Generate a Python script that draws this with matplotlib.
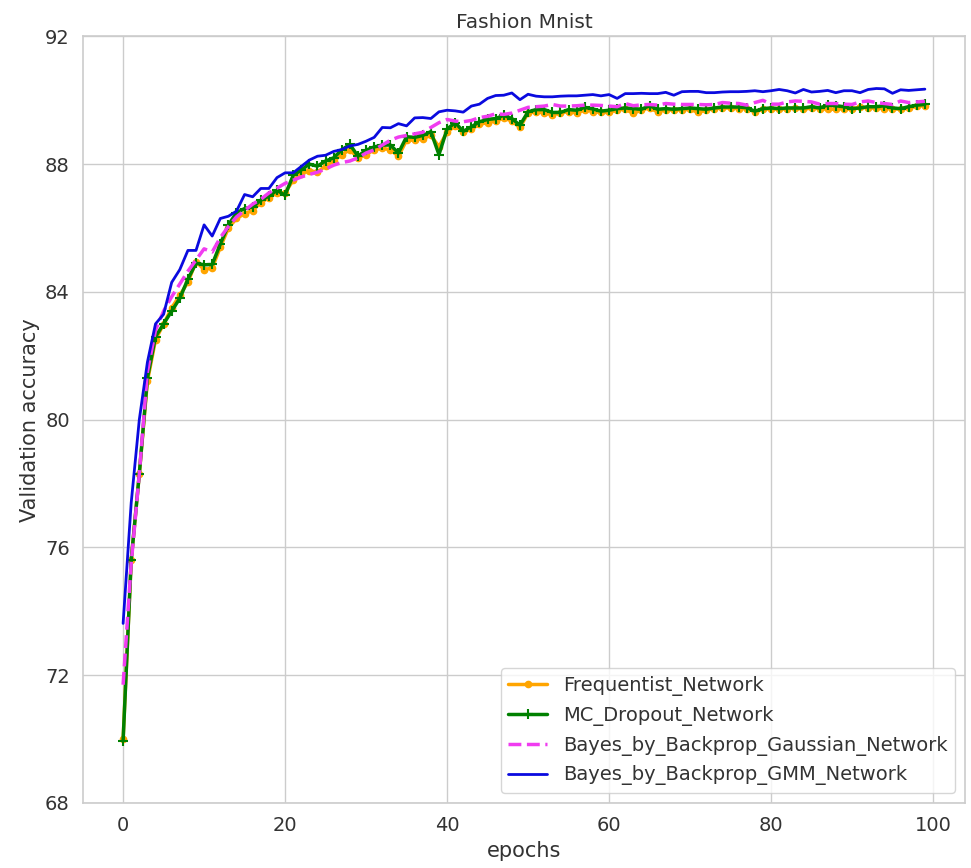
import numpy as np
import matplotlib
matplotlib.use("Agg")
import matplotlib.pyplot as plt
import seaborn as sns

epochs = list(range(100))

frequentist = [
    70.0, 75.6, 78.3, 81.2, 82.5, 83.0, 83.5, 83.9, 84.3, 84.95,
    84.7, 84.75, 85.4, 86.0, 86.3, 86.45, 86.55, 86.8, 86.95, 87.1,
    87.1, 87.5, 87.7, 87.8, 87.75, 87.95, 88.1, 88.3, 88.45, 88.2,
    88.3, 88.45, 88.5, 88.45, 88.25, 88.75, 88.75, 88.8, 88.9, 88.55,
    89.0, 89.2, 89.0, 89.1, 89.25, 89.3, 89.35, 89.45, 89.35, 89.15,
    89.6, 89.65, 89.6, 89.55, 89.6, 89.65, 89.6, 89.7, 89.65, 89.62,
    89.62, 89.7, 89.72, 89.59, 89.7, 89.76, 89.64, 89.7, 89.7, 89.7,
    89.72, 89.62, 89.7, 89.74, 89.76, 89.76, 89.74, 89.74, 89.64, 89.72,
    89.74, 89.72, 89.74, 89.76, 89.72, 89.76, 89.74, 89.72, 89.72, 89.74,
    89.72, 89.80, 89.76, 89.76, 89.74, 89.74, 89.72, 89.76, 89.82, 89.83,
]

mc_dropout = [
    69.95, 75.6, 78.3, 81.3, 82.6, 83.0, 83.4, 83.8, 84.4, 84.9,
    84.85, 84.86, 85.5, 86.1, 86.48, 86.61, 86.66, 86.87, 87.0, 87.18,
    87.03, 87.65, 87.82, 88.0, 87.94, 88.1, 88.2, 88.45, 88.62, 88.25,
    88.44, 88.54, 88.6, 88.6, 88.35, 88.86, 88.84, 88.9, 89.02, 88.3,
    89.1, 89.3, 89.03, 89.17, 89.33, 89.4, 89.43, 89.53, 89.43, 89.22,
    89.64, 89.71, 89.71, 89.62, 89.62, 89.71, 89.69, 89.78, 89.73, 89.66,
    89.69, 89.74, 89.76, 89.74, 89.72, 89.83, 89.72, 89.74, 89.72, 89.74,
    89.76, 89.74, 89.72, 89.76, 89.79, 89.79, 89.79, 89.77, 89.66, 89.74,
    89.76, 89.74, 89.76, 89.76, 89.76, 89.80, 89.76, 89.85, 89.83, 89.80,
    89.74, 89.76, 89.80, 89.80, 89.83, 89.76, 89.74, 89.80, 89.85, 89.87,
]

bbb_gaussian = [
    71.7, 75.5, 78.3, 81.5, 82.8, 83.4, 83.85, 84.25, 84.65, 85.0,
    85.35, 85.25, 85.7, 86.05, 86.35, 86.55, 86.75, 86.9, 87.1, 87.25,
    87.4, 87.5, 87.6, 87.68, 87.75, 87.85, 87.97, 88.05, 88.1, 88.2,
    88.35, 88.45, 88.6, 88.75, 88.85, 88.9, 88.95, 89.0, 89.15, 89.3,
    89.4, 89.35, 89.33, 89.37, 89.46, 89.5, 89.58, 89.56, 89.6, 89.69,
    89.78, 89.8, 89.82, 89.87, 89.82, 89.82, 89.83, 89.85, 89.85, 89.84,
    89.82, 89.80, 89.90, 89.83, 89.86, 89.87, 89.85, 89.90, 89.88, 89.87,
    89.87, 89.87, 89.86, 89.87, 89.93, 89.91, 89.90, 89.85, 89.93, 90.0,
    89.88, 89.88, 89.95, 89.98, 89.97, 89.95, 89.88, 89.90, 89.90, 89.88,
    89.87, 89.95, 89.98, 89.93, 89.90, 89.87, 89.98, 89.93, 89.95, 89.97,
]

bbb_gmm = [
    73.62, 77.4, 80.0, 81.8, 83.0, 83.3, 84.3, 84.7, 85.3, 85.3,
    86.1, 85.75, 86.3, 86.37, 86.53, 87.05, 86.98, 87.24, 87.24, 87.58,
    87.73, 87.73, 87.93, 88.13, 88.25, 88.28, 88.4, 88.46, 88.57, 88.62,
    88.72, 88.84, 89.15, 89.14, 89.27, 89.2, 89.45, 89.46, 89.43, 89.64,
    89.69, 89.67, 89.63, 89.82, 89.88, 90.06, 90.15, 90.16, 90.23, 90.02,
    90.19, 90.13, 90.11, 90.11, 90.13, 90.14, 90.14, 90.16, 90.18, 90.14,
    90.18, 90.06, 90.21, 90.21, 90.22, 90.21, 90.21, 90.25, 90.16, 90.27,
    90.28, 90.28, 90.24, 90.24, 90.26, 90.27, 90.27, 90.28, 90.30, 90.27,
    90.30, 90.34, 90.30, 90.23, 90.34, 90.26, 90.28, 90.31, 90.24, 90.30,
    90.30, 90.24, 90.34, 90.37, 90.36, 90.22, 90.33, 90.31, 90.33, 90.35,
]

y_ticks = [68, 72, 76, 80, 84, 88, 92]
x_ticks = [0, 20, 40, 60, 80, 100]

sns.set_theme(style="whitegrid")
plt.rcParams["font.family"] = ["DejaVu Sans"]

fig, ax = plt.subplots(figsize=(9.71, 8.68), dpi=100)
fig.subplots_adjust(left=0.0855, right=0.9938, top=0.958, bottom=0.075)

ax.plot(epochs, frequentist, color="orange", marker=".", markersize=9,
        linewidth=2.5, label="Frequentist_Network")
ax.plot(epochs, mc_dropout, color="green", marker="+", markersize=6.5,
        markeredgewidth=1.5, linewidth=2.5, label="MC_Dropout_Network")
ax.plot(epochs, bbb_gaussian, color="#f03cf0", linestyle="--",
        linewidth=2.5, label="Bayes_by_Backprop_Gaussian_Network")
ax.plot(epochs, bbb_gmm, color="#0a0adf", linewidth=2.0,
        label="Bayes_by_Backprop_GMM_Network")

ax.set_ylim(68, 92)
ax.set_yticks(y_ticks)
ax.set_xticks(x_ticks)
ax.tick_params(labelsize=14, colors="#333333")
ax.set_xlabel("epochs", fontsize=15, color="#333333")
ax.set_ylabel("Validation accuracy", fontsize=15, color="#333333")
ax.set_title("Fashion Mnist", fontsize=14.5, color="#333333")

for s in ax.spines.values():
    s.set_color("#cccccc")
    s.set_linewidth(1.2)

leg = ax.legend(loc="lower right", fontsize=14, frameon=True)
for t in leg.get_texts():
    t.set_color("#333333")

fig.savefig("out.png", dpi=100)
